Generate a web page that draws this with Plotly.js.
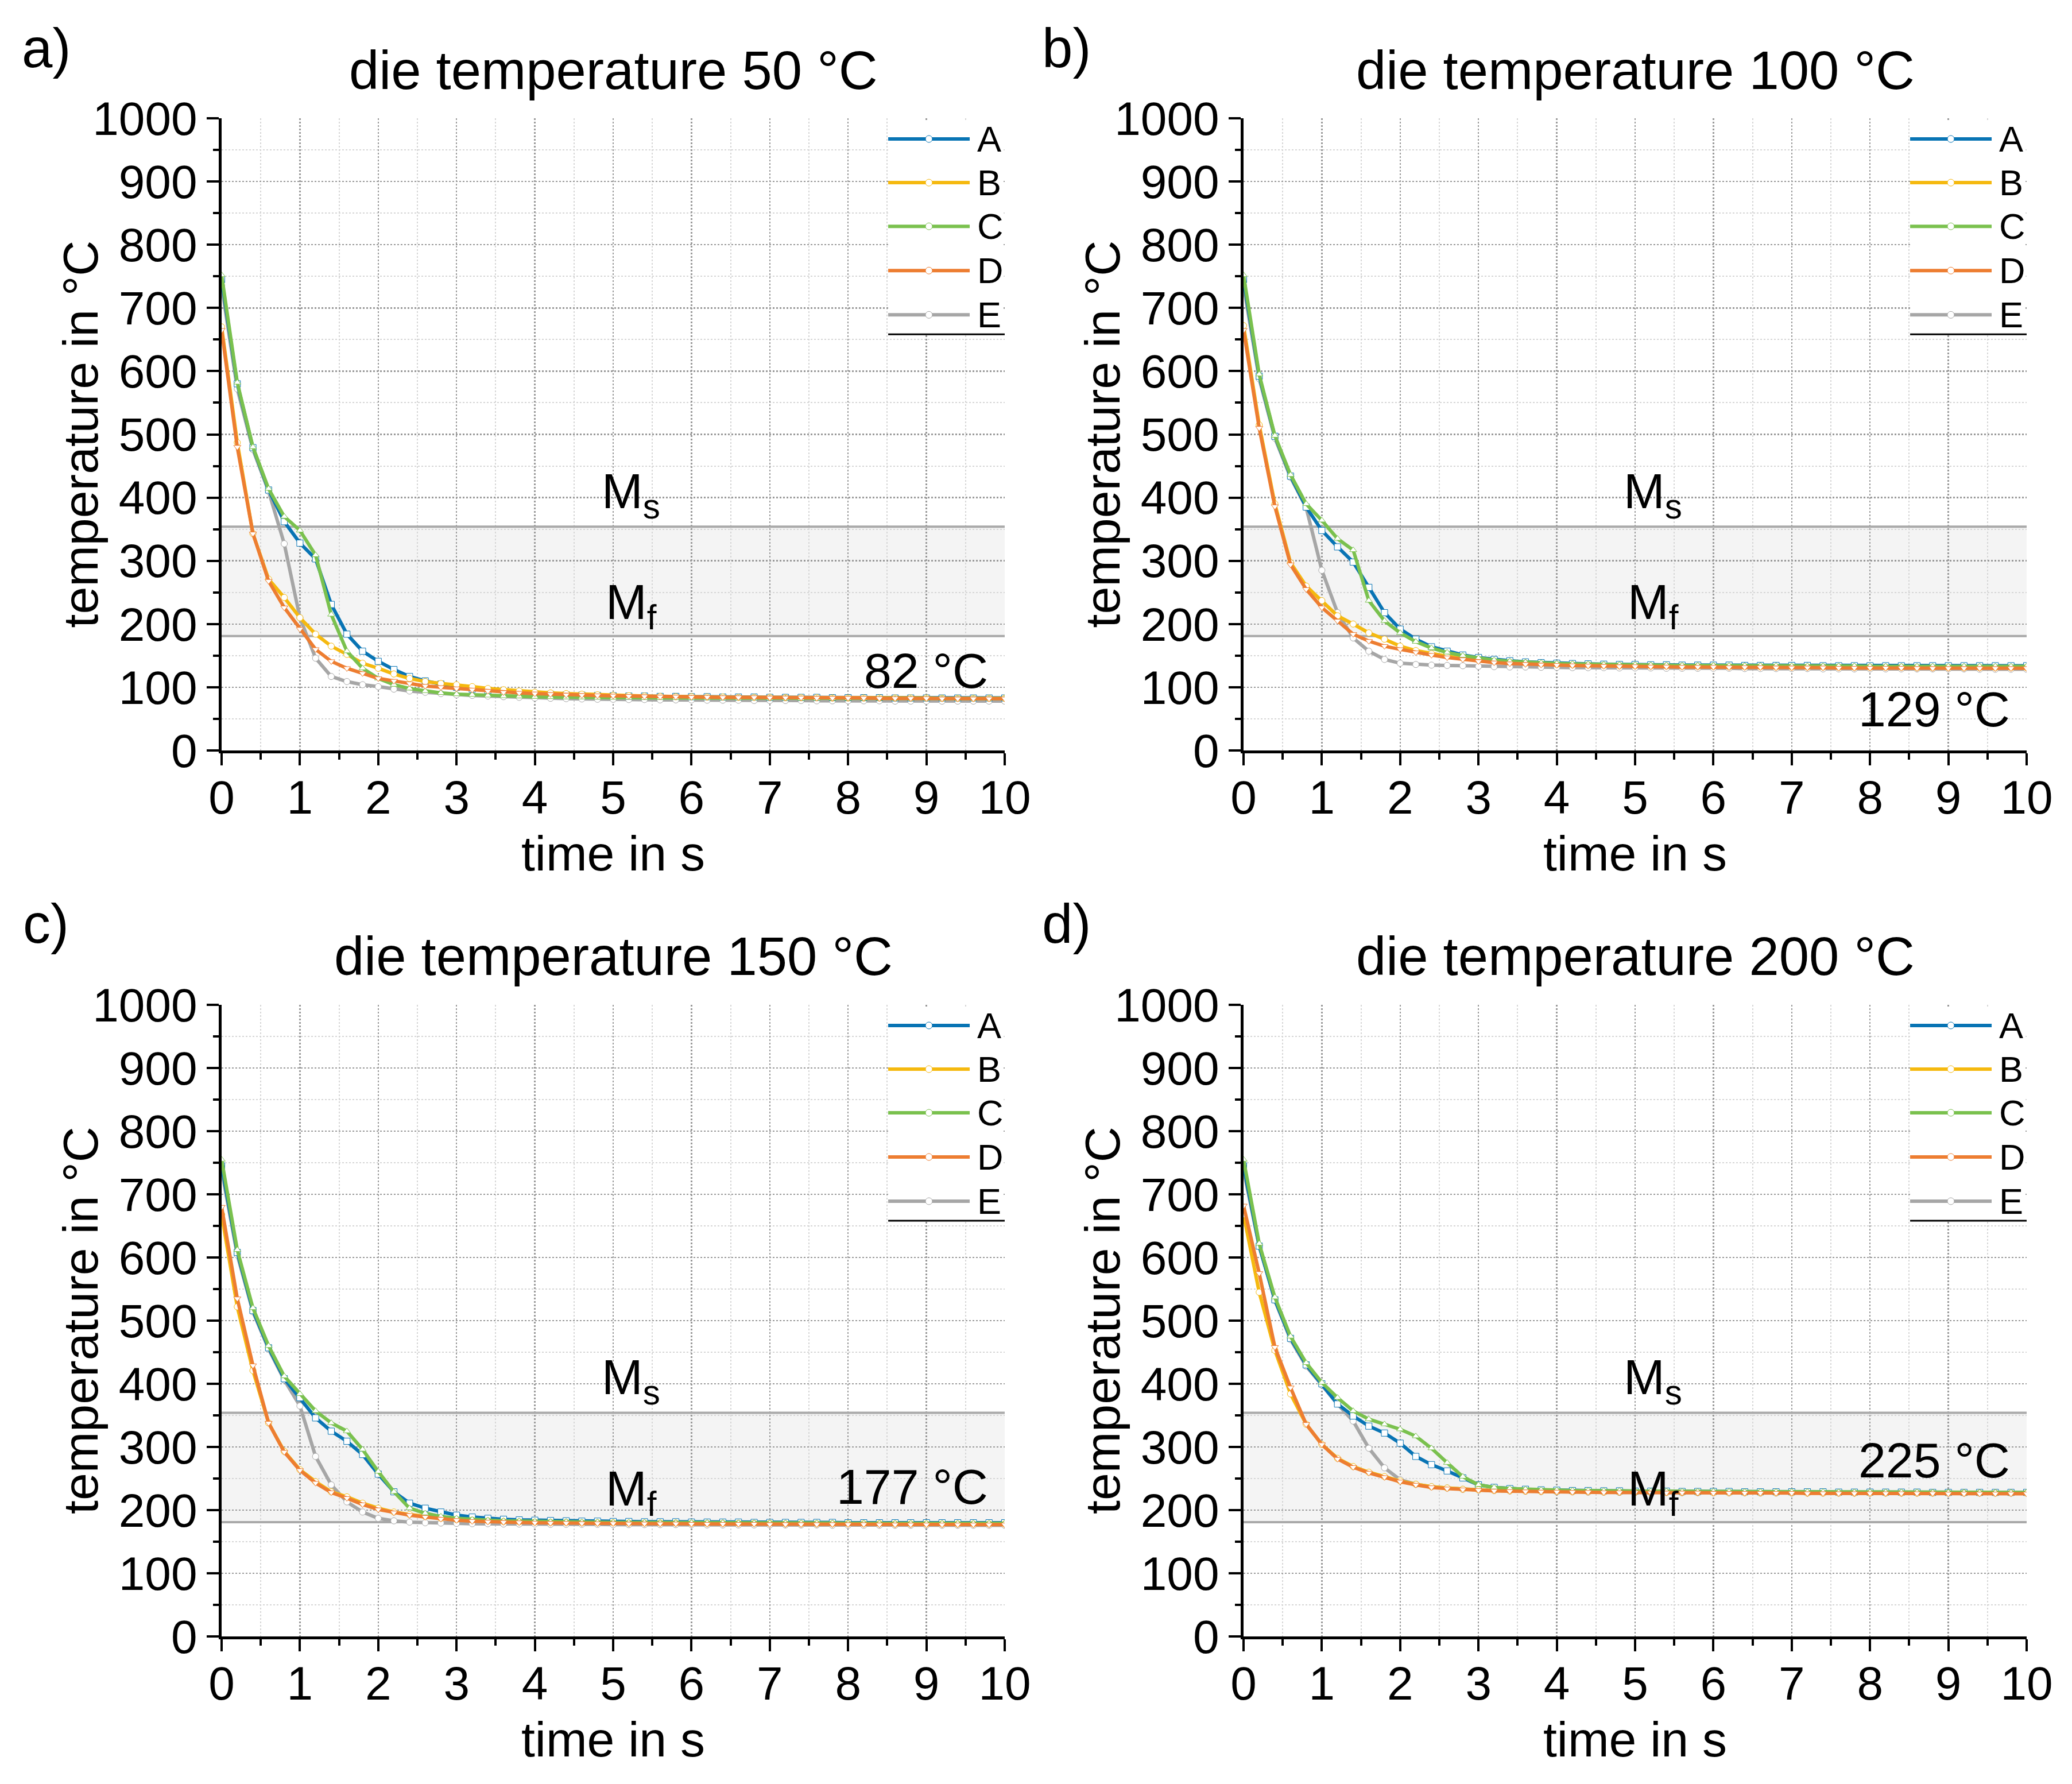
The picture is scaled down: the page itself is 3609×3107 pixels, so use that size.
<!DOCTYPE html>
<html><head><meta charset="utf-8">
<script src="https://cdn.plot.ly/plotly-3.0.1.min.js"></script>
<style>html,body{margin:0;padding:0;background:#fff}</style>
</head><body><div id="chart" style="width:3609px;height:3107px"></div>
<script>
const time = [0,0.2,0.4,0.6,0.8,1,1.2,1.4,1.6,1.8,2,2.2,2.4,2.6,2.8,3,3.2,3.4,3.6,3.8,4,4.2,4.4,4.6,4.8,5,5.2,5.4,5.6,5.8,6,6.2,6.4,6.6,6.8,7,7.2,7.4,7.6,7.8,8,8.2,8.4,8.6,8.8,9,9.2,9.4,9.6,9.8,10];
const seriesNames = ['A','B','C','D','E'];
const panelTitles = ['die temperature 50 °C','die temperature 100 °C','die temperature 150 °C','die temperature 200 °C'];
const panelLetters = ['a)','b)','c)','d)'];
const endLabels = ['82 °C','129 °C','177 °C','225 °C'];
const endLabelY = [126, 65, 237, 279];
const Ms = 354, Mf = 181;

// die temperature 50 °C
const die50_A = [745,580,479,412,362, 328,303,231,184,157, 141,128,117,110,105, 100,97,95,93,91.5, 90,89,88,87.5,87, 86.5,86,86,85.5,85.5, 85,85,84.5,84.5,84.5, 84,84,84,84,83.5, 83.5,83.5,83.5,83,83, 83,83,83,83,83, 83];
const die50_B = [670,487,343,271,242, 210,184,165,152,138, 130,121,114,109,106, 104,101,98,96,94, 92,91,90,89,88, 87,86.5,86,85.5,85, 85,84.5,84.5,84,84, 84,83.5,83.5,83.5,83, 83,83,83,83,83, 83,82.5,82.5,82.5,82.5, 82.5];
const die50_C = [752,582,480,414,370, 348,309,215,157,130, 114,104,98,94,91, 89,88,87,86,85.5, 85,84.5,84,84,83.5, 83.5,83.5,83,83,83, 83,83,82.5,82.5,82.5, 82.5,82.5,82,82,82, 82,82,82,82,82, 82,82,82,82,82, 82];
const die50_D = [665,480,343,268,226, 192,160,141,130,122, 114,110,106,102,100, 98,96,94,92,91, 90,89,88,87.5,87, 86.5,86,85.5,85,85, 84.5,84.5,84,84,84, 83.5,83.5,83.5,83,83, 83,83,82.5,82.5,82.5, 82.5,82,82,82,82, 82];
const die50_E = [735,572,476,410,327, 210,146,117,109,104, 101,97,94,92,90, 88,87,86,85,84, 83,82.5,82,81.5,81, 81,80.5,80.5,80,80, 80,79.5,79.5,79.5,79, 79,79,79,78.5,78.5, 78.5,78.5,78.5,78,78, 78,78,78,78,78, 78];

// die temperature 100 °C
const die100_A = [745,592,497,434,385, 348,322,298,258,218, 192,176,164,157,151, 147,144,142,140,139, 138,137.5,137,136.5,136, 136,135.5,135.5,135,135, 135,135,134.5,134.5,134.5, 134.5,134.5,134,134,134, 134,134,134,134,134, 134,134,134,134,134, 134];
const die100_B = [672,515,390,297,260, 237,213,200,186,176, 165,158,153,149,146, 143,141,139.5,138,137, 136,135.5,135,134.5,134, 134,133.5,133.5,133,133, 133,132.5,132.5,132.5,132, 132,132,132,131.5,131.5, 131.5,131.5,131.5,131,131, 131,131,131,131,131, 131];
const die100_C = [752,595,498,436,390, 364,335,317,237,205, 186,172,162,155,150, 146,143,141,139.5,138.5, 137.5,137,136.5,136,135.5, 135.5,135,135,134.5,134.5, 134.5,134,134,134,134, 133.5,133.5,133.5,133.5,133.5, 133,133,133,133,133, 133,133,133,133,133, 133];
const die100_D = [665,510,386,294,255, 226,205,184,173,165, 160,155,151,147,144, 141,139,137.5,136.5,135.5, 135,134.5,134,133.5,133, 133,132.5,132.5,132,132, 132,131.5,131.5,131.5,131, 131,131,131,130.5,130.5, 130.5,130.5,130.5,130,130, 130,130,130,130,130, 130];
const die100_E = [735,588,494,432,384, 285,218,178,157,144, 138,136,135,134.5,134, 133,132.5,132,132,131.5, 131.5,131,131,131,130.5, 130.5,130.5,130,130,130, 130,130,129.5,129.5,129.5, 129.5,129.5,129,129,129, 129,129,129,129,129, 129,129,128.5,128.5,128.5, 128.5];

// die temperature 150 °C
const die150_A = [745,608,516,457,408, 378,346,325,309,288, 257,229,211,203,197, 192,189,187,185.5,184.5, 184,183.5,183,182.5,182.5, 182,182,181.5,181.5,181.5, 181,181,181,181,180.5, 180.5,180.5,180.5,180.5,180.5, 180,180,180,180,180, 180,180,180,180,180, 180];
const die150_B = [668,522,421,338,293, 264,245,229,221,211, 203,197,193,190,187, 185,184,183,182,181.5, 181,180.5,180.5,180,180, 180,179.5,179.5,179.5,179.5, 179,179,179,179,179, 179,178.5,178.5,178.5,178.5, 178.5,178.5,178.5,178,178, 178,178,178,178,178, 178];
const die150_C = [755,612,520,460,412, 384,357,338,325,296, 261,229,203,195,190, 187,185,184,183,182.5, 182,181.5,181.5,181,181, 180.5,180.5,180.5,180,180, 180,180,180,179.5,179.5, 179.5,179.5,179.5,179.5,179.5, 179,179,179,179,179, 179,179,179,179,179, 179];
const die150_D = [680,535,429,338,292, 263,243,228,219,209, 201,196,192,189,186, 184,182.5,181.5,181,180.5, 180,179.5,179.5,179,179, 179,178.5,178.5,178.5,178.5, 178,178,178,178,178, 177.5,177.5,177.5,177.5,177.5, 177.5,177.5,177,177,177, 177,177,177,177,177, 177];
const die150_E = [738,604,514,455,406, 365,285,240,213,197, 187,183,181,180,179.5, 179,178.5,178.5,178,178, 178,177.5,177.5,177.5,177.5, 177,177,177,177,177, 177,176.5,176.5,176.5,176.5, 176.5,176.5,176.5,176.5,176, 176,176,176,176,176, 176,176,176,176,176, 176];

// die temperature 200 °C
const die200_A = [745,618,533,472,430, 400,368,349,333,322, 306,285,272,262,251, 240,236,234,233,232, 231.5,231,231,230.5,230.5, 230,230,230,229.5,229.5, 229.5,229.5,229,229,229, 229,229,229,228.5,228.5, 228.5,228.5,228.5,228.5,228, 228,228,228,228,228, 228];
const die200_B = [668,545,453,384,336, 304,282,269,260,253, 246,241,237,235,233, 232,231,230.5,230,229.5, 229.5,229,229,228.5,228.5, 228.5,228,228,228,228, 227.5,227.5,227.5,227.5,227.5, 227.5,227,227,227,227, 227,227,227,227,227, 227,227,227,227,227, 227];
const die200_C = [755,622,537,475,433, 402,378,357,344,336, 328,317,298,275,253, 240,236,234,233,232, 231.5,231,231,230.5,230.5, 230,230,230,229.5,229.5, 229.5,229.5,229,229,229, 229,229,229,228.5,228.5, 228.5,228.5,228.5,228.5,228, 228,228,228,228,228, 228];
const die200_D = [682,575,458,394,336, 304,281,268,259,252, 245,240,236,234,232.5, 231.5,230.5,230,229.5,229, 229,228.5,228.5,228,228, 228,227.5,227.5,227.5,227.5, 227,227,227,227,227, 227,226.5,226.5,226.5,226.5, 226.5,226.5,226.5,226.5,226.5, 226,226,226,226,226, 226];
const die200_E = [738,618,532,470,428, 398,368,341,298,267, 248,241,237,235,233, 232,231,230.5,230,229.5, 229,229,228.5,228.5,228, 228,228,228,227.5,227.5, 227.5,227.5,227.5,227,227, 227,227,227,227,227, 227,227,227,227,227, 227,227,227,227,227, 227];

const panelData = [
  {A: die50_A, B: die50_B, C: die50_C, D: die50_D, E: die50_E},
  {A: die100_A, B: die100_B, C: die100_C, D: die100_D, E: die100_E},
  {A: die150_A, B: die150_B, C: die150_C, D: die150_D, E: die150_E},
  {A: die200_A, B: die200_B, C: die200_C, D: die200_D, E: die200_E}
];

const colors = {A:'#0874B4', B:'#F5B90F', C:'#7AC14E', D:'#ED7D31', E:'#A6A6A6'};
const symbols = {A:'square', B:'circle', C:'triangle-up', D:'triangle-down', E:'circle'};
const drawOrder = ['E','A','B','C','D'];
const FONT = 'Liberation Sans, Arial, Helvetica, sans-serif';

const W = 3609, H = 3107;
const xDomains = [[386/W, 1750/W], [2166/W, 3530/W], [386/W, 1750/W], [2166/W, 3530/W]];
const yDomains = [[1-1307/H, 1-206/H], [1-1307/H, 1-206/H], [1-2850/H, 1-1750/H], [1-2850/H, 1-1750/H]];

const traces = [];
const layout = {
  width: W, height: H,
  margin: {l:0, r:0, t:0, b:0, pad: 0, autoexpand: false},
  paper_bgcolor: '#fff', plot_bgcolor: '#fff',
  showlegend: false,
  font: {family: FONT, color: '#000'},
  shapes: [], annotations: []
};

for (let p = 0; p < 4; p++) {
  const sfx = p === 0 ? '' : String(p + 1);
  const xa = 'x' + sfx, ya = 'y' + sfx;
  drawOrder.forEach(s => {
    traces.push({
      type: 'scatter', mode: 'lines+markers', name: s,
      x: time, y: panelData[p][s], xaxis: xa, yaxis: ya,
      line: {color: colors[s], width: 6},
      marker: {symbol: symbols[s], size: 11, color: '#fff', line: {color: colors[s], width: 1}},
      cliponaxis: true, hoverinfo: 'skip'
    });
  });

  layout['xaxis' + sfx] = {
    domain: xDomains[p], anchor: ya, range: [0, 10], tick0: 0, dtick: 1,
    ticks: 'outside', ticklen: 21, tickwidth: 4, tickcolor: '#000',
    showline: true, linewidth: 5, linecolor: '#000', zeroline: false,
    showgrid: true, gridcolor: '#9a9a9a', gridwidth: 2.5, griddash: 'dot',
    minor: {dtick: 0.5, tick0: 0, ticks: 'outside', ticklen: 11, tickwidth: 4, tickcolor: '#000',
            showgrid: true, gridcolor: '#d6d6d6', gridwidth: 2, griddash: 'dot'},
    tickfont: {family: FONT, size: 82, color: '#000'}, ticklabelstandoff: -14,
    title: {text: 'time in s', font: {family: FONT, size: 86, color: '#000'}, standoff: 24},
    automargin: 'bottom', fixedrange: true
  };
  layout['yaxis' + sfx] = {
    domain: yDomains[p], anchor: xa, range: [0, 1000], tick0: 0, dtick: 100,
    ticks: 'outside', ticklen: 21, tickwidth: 4, tickcolor: '#000',
    showline: true, linewidth: 5, linecolor: '#000', zeroline: false,
    showgrid: true, gridcolor: '#9a9a9a', gridwidth: 2.5, griddash: 'dot',
    minor: {dtick: 50, tick0: 0, ticks: 'outside', ticklen: 10, tickwidth: 4, tickcolor: '#000',
            showgrid: true, gridcolor: '#d6d6d6', gridwidth: 2, griddash: 'dot'},
    tickfont: {family: FONT, size: 82, color: '#000'}, ticklabelstandoff: 0,
    automargin: false, fixedrange: true
  };
  // mirrored axes with inward ticks (top and right)
  layout['xaxis' + (p + 5)] = {
    overlaying: xa, anchor: ya, side: 'top', range: [0, 10], tick0: 0, dtick: 1,
    ticks: 'inside', ticklen: 22, tickwidth: 4, tickcolor: '#000', showticklabels: false,
    showline: true, linewidth: 5, linecolor: '#000', showgrid: false, zeroline: false,
    minor: {dtick: 0.5, tick0: 0, ticks: 'inside', ticklen: 11, tickwidth: 4, tickcolor: '#000', showgrid: false},
    fixedrange: true
  };
  layout['yaxis' + (p + 5)] = {
    overlaying: ya, anchor: xa, side: 'right', range: [0, 1000], tick0: 0, dtick: 100,
    ticks: 'inside', ticklen: 21, tickwidth: 4, tickcolor: '#000', showticklabels: false,
    showline: true, linewidth: 5, linecolor: '#000', showgrid: false, zeroline: false,
    minor: {dtick: 50, tick0: 0, ticks: 'inside', ticklen: 10, tickwidth: 4, tickcolor: '#000', showgrid: false},
    fixedrange: true
  };

  // martensite band
  layout.shapes.push({type: 'rect', xref: xa, yref: ya, x0: 0, x1: 10, y0: Mf, y1: Ms,
    fillcolor: '#f4f4f4', line: {width: 0}, layer: 'below'});
  [Ms, Mf].forEach(v => layout.shapes.push({type: 'line', xref: xa, yref: ya, x0: 0, x1: 10, y0: v, y1: v,
    line: {color: '#a9a9a9', width: 4}, layer: 'between'}));

  // legend box (drawn manually so the key lines match the original length)
  const xd = xa + ' domain', yd = ya + ' domain';
  layout.shapes.push({type: 'rect', xref: xd, yref: yd, x0: 0.8512, x1: 0.9975, y0: 0.6582, y1: 0.9965,
    fillcolor: '#fff', line: {width: 0}, layer: 'above'});
  layout.shapes.push({type: 'line', xref: xd, yref: yd, x0: 0.8512, x1: 1, y0: 0.6582, y1: 0.6582,
    line: {color: '#000', width: 3}, layer: 'above'});
  const keyY = [0.9673, 0.8982, 0.8291, 0.7591, 0.6891];
  seriesNames.forEach((s, i) => {
    layout.shapes.push({type: 'line', xref: xd, yref: yd, x0: 0.8512, x1: 0.9553, y0: keyY[i], y1: keyY[i],
      line: {color: colors[s], width: 6}, layer: 'above'});
    layout.shapes.push({type: 'circle', xref: xd, yref: yd, xsizemode: 'pixel', ysizemode: 'pixel',
      xanchor: 0.9032, yanchor: keyY[i], x0: -6, x1: 6, y0: -6, y1: 6,
      fillcolor: '#fff', line: {color: colors[s], width: 1}, layer: 'above'});
    layout.annotations.push({xref: xd, yref: yd, x: 0.9635, y: keyY[i], xanchor: 'left', yanchor: 'middle',
      text: s, showarrow: false, font: {family: FONT, size: 63, color: '#000'}});
  });

  // y axis title
  const yc = (yDomains[p][0] + yDomains[p][1]) / 2;
  layout.annotations.push({xref: 'paper', yref: 'paper', x: (xDomains[p][0] * W - 246) / W, y: yc,
    xanchor: 'center', yanchor: 'middle', textangle: -90, text: 'temperature in °C', showarrow: false,
    font: {family: FONT, size: 86, color: '#000'}});

  // titles and labels
  const xc = (xDomains[p][0] + xDomains[p][1]) / 2;
  layout.annotations.push({xref: 'paper', yref: 'paper', x: xc, y: yDomains[p][1] + 84 / H,
    xanchor: 'center', yanchor: 'middle', text: panelTitles[p], showarrow: false,
    font: {family: FONT, size: 94, color: '#000'}});
  layout.annotations.push({xref: 'paper', yref: 'paper', x: (p % 2 === 0 ? 80 : 1857) / W,
    y: 1 - (p < 2 ? 84 : 1608) / H, xanchor: 'center', yanchor: 'middle', text: panelLetters[p],
    showarrow: false, font: {family: FONT, size: 96, color: '#000'}});
  layout.annotations.push({xref: xa, yref: ya, x: 5.23, y: 405, xanchor: 'center', yanchor: 'middle',
    text: 'M<sub>s</sub>', showarrow: false, font: {family: FONT, size: 86, color: '#000'}});
  layout.annotations.push({xref: xa, yref: ya, x: 5.23, y: 229, xanchor: 'center', yanchor: 'middle',
    text: 'M<sub>f</sub>', showarrow: false, font: {family: FONT, size: 86, color: '#000'}});
  layout.annotations.push({xref: xa, yref: ya, x: 9.8, y: endLabelY[p], xanchor: 'right', yanchor: 'middle',
    text: endLabels[p], showarrow: false, font: {family: FONT, size: 86, color: '#000'}});
}

Plotly.newPlot('chart', traces, layout, {staticPlot: true, displayModeBar: false});
</script>
</body></html>
